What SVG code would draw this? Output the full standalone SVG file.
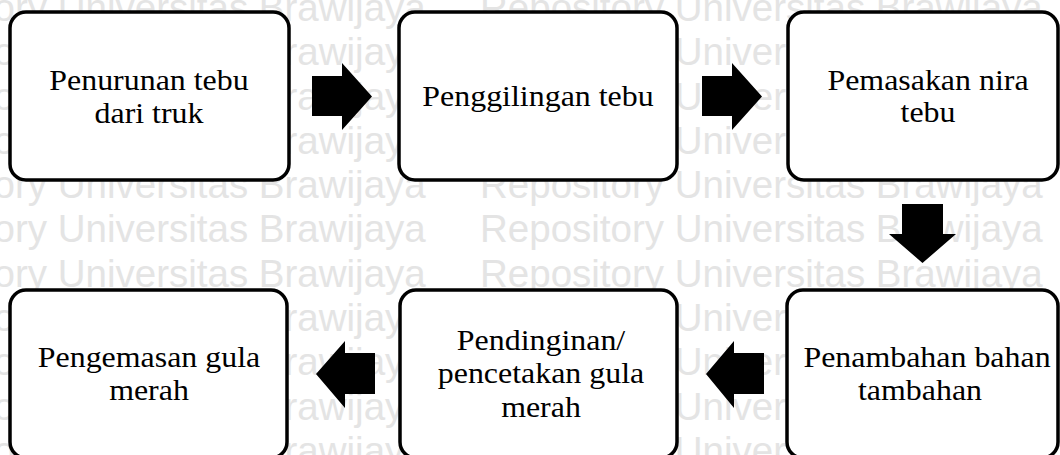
<svg xmlns="http://www.w3.org/2000/svg" width="1060" height="455" viewBox="0 0 1060 455">
<style>
.wm{font-family:"Liberation Sans",Arial,sans-serif;font-size:38.5px;fill:#e4e4e4}
.box{fill:#fff;stroke:#000;stroke-width:3.5}
.lbl{font-family:"Liberation Serif","Times New Roman",serif;font-size:28.5px;fill:#000;text-anchor:middle}
.arr{fill:#000}
</style>
<rect width="1060" height="455" fill="#fff"/>
<g id="watermark" class="wm">
<text x="-137" y="21" xml:space="preserve">Repository Universitas Brawijaya</text><text x="480" y="21">Repository Universitas Brawijaya</text>
<text x="-137" y="65">Repository Universitas Brawijaya</text><text x="480" y="65">Repository Universitas Brawijaya</text>
<text x="-137" y="110">Repository Universitas Brawijaya</text><text x="480" y="110">Repository Universitas Brawijaya</text>
<text x="-137" y="154">Repository Universitas Brawijaya</text><text x="480" y="154">Repository Universitas Brawijaya</text>
<text x="-137" y="198">Repository Universitas Brawijaya</text><text x="480" y="198">Repository Universitas Brawijaya</text>
<text x="-137" y="242">Repository Universitas Brawijaya</text><text x="480" y="242">Repository Universitas Brawijaya</text>
<text x="-137" y="287">Repository Universitas Brawijaya</text><text x="480" y="287">Repository Universitas Brawijaya</text>
<text x="-137" y="331">Repository Universitas Brawijaya</text><text x="480" y="331">Repository Universitas Brawijaya</text>
<text x="-137" y="375">Repository Universitas Brawijaya</text><text x="480" y="375">Repository Universitas Brawijaya</text>
<text x="-137" y="420">Repository Universitas Brawijaya</text><text x="480" y="420">Repository Universitas Brawijaya</text>
<text x="-137" y="464">Repository Universitas Brawijaya</text><text x="480" y="464">Repository Universitas Brawijaya</text>
</g>
<g id="connectors">
<polygon class="arr" points="312,76 342,76 342,63 372,96.5 342,130 342,116 312,116"/>
<polygon class="arr" points="702,76 732,76 732,63 762,96.5 732,130 732,116 702,116"/>
<polygon class="arr" points="902,204 943,204 943,234 956,234 922.5,263 889,234 902,234"/>
<polygon class="arr" points="764,353 734,353 734,341 706,374 734,408 734,394 764,394"/>
<polygon class="arr" points="375,353 345,353 345,341 316,374 345,408 345,394 375,394"/>
</g>
<g id="n1">
<rect class="box" x="10" y="12" width="279" height="168" rx="16"/>
<text class="lbl" transform="translate(149,90) scale(1.12,1)">Penurunan tebu</text>
<text class="lbl" transform="translate(149,123) scale(1.12,1)">dari truk</text>
</g>
<g id="n2">
<rect class="box" x="399" y="12" width="278" height="168" rx="16"/>
<text class="lbl" transform="translate(538,106) scale(1.12,1)">Penggilingan tebu</text>
</g>
<g id="n3">
<rect class="box" x="788" y="12" width="270" height="168" rx="16"/>
<text class="lbl" transform="translate(928,89.5) scale(1.12,1)">Pemasakan nira</text>
<text class="lbl" transform="translate(928,122) scale(1.12,1)">tebu</text>
</g>
<g id="n4">
<rect class="box" x="787" y="290" width="271" height="168" rx="16"/>
<text class="lbl" transform="translate(927,367) scale(1.12,1)">Penambahan bahan</text>
<text class="lbl" transform="translate(920,400) scale(1.12,1)">tambahan</text>
</g>
<g id="n5">
<rect class="box" x="400" y="290" width="277" height="168" rx="16"/>
<text class="lbl" transform="translate(541,350) scale(1.12,1)">Pendinginan/</text>
<text class="lbl" transform="translate(541,383) scale(1.12,1)">pencetakan gula</text>
<text class="lbl" transform="translate(541,416.5) scale(1.12,1)">merah</text>
</g>
<g id="n6">
<rect class="box" x="10" y="290" width="277" height="168" rx="16"/>
<text class="lbl" transform="translate(149,367) scale(1.12,1)">Pengemasan gula</text>
<text class="lbl" transform="translate(149,400) scale(1.12,1)">merah</text>
</g>
</svg>
